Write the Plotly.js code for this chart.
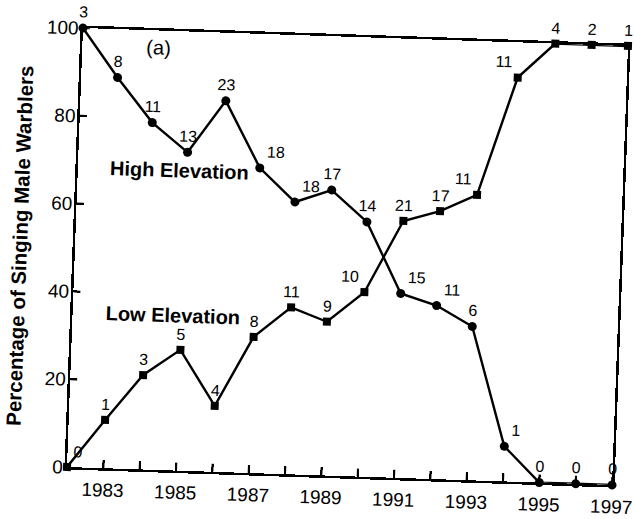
<!DOCTYPE html>
<html>
<head>
<meta charset="utf-8">
<script src="https://cdn.plot.ly/plotly-3.0.1.min.js"></script>
<style>
  html, body { margin: 0; padding: 0; background: #ffffff; overflow: hidden; }
  #chart { width: 634px; height: 519px; transform-origin: 67px 467px; transform: matrix(1, 0.033, -0.0364, 1, 0, 0); }
</style>
</head>
<body>
<div id="chart"></div>
<script>
// Years of survey
const years = [1982, 1983, 1984, 1985, 1986, 1987, 1988, 1989, 1990, 1991, 1992, 1993, 1994, 1995, 1996, 1997];
// Percentage of singing male warblers
const highElevation = [100, 89, 79, 72.5, 84.5, 69.5, 62, 65, 58, 42, 39.5, 35, 8, 0, 0, 0];
const lowElevation  = [0, 11, 21.5, 27.5, 15, 31, 38, 35, 42, 58.5, 61, 65, 92, 100, 100, 100];
// Sample sizes (number of males) labelled above each point
const highN = [3, 8, 11, 13, 23, 18, 18, 17, 14, 15, 11, 6, 1, 0, 0, 0];
const lowN  = [0, 1, 3, 5, 4, 8, 11, 9, 10, 21, 17, 11, 11, 4, 2, 1];
// Axis ticks and tick labels
const xTickVals = [1982, 1983, 1984, 1985, 1986, 1987, 1988, 1989, 1990, 1991, 1992, 1993, 1994, 1995, 1996, 1997];
const xTickText = ['', '1983', '', '1985', '', '1987', '', '1989', '', '1991', '', '1993', '', '1995', '', '1997'];
const yTickVals = [0, 20, 40, 60, 80, 100];

const highTextPos = ['top center','top center','top center','top center','top center','top right','top right','top center',
                     'top center','top right','top right','top center','top right','top center','top center','top center'];
const lowTextPos  = ['top right','top center','top center','top center','top center','top center','top center','top center',
                     'top left','top center','top center','top left','top left','top center','top center','top center'];

const FONT = 'Liberation Sans, Arial, Helvetica, sans-serif';

const traces = [
  {
    x: years, y: highElevation, text: highN.map(String),
    type: 'scatter', mode: 'lines+markers+text', name: 'High Elevation',
    line: { color: '#000', width: 2.4 },
    marker: { symbol: 'circle', size: 9, color: '#000' },
    textposition: highTextPos,
    textfont: { family: FONT, size: 16, color: '#000' },
    cliponaxis: false, showlegend: false
  },
  {
    x: years, y: lowElevation, text: lowN.map(String),
    type: 'scatter', mode: 'lines+markers+text', name: 'Low Elevation',
    line: { color: '#000', width: 2.4 },
    marker: { symbol: 'square', size: 8, color: '#000' },
    textposition: lowTextPos,
    textfont: { family: FONT, size: 16, color: '#000' },
    cliponaxis: false, showlegend: false
  }
];

// Inward tick marks, anchored on the axes through the library's scales
const tickShapes = xTickVals.slice(1).map(function (v) {
  return { type: 'line', layer: 'above', xref: 'x', x0: v, x1: v,
           yref: 'y', ysizemode: 'pixel', yanchor: 0, y0: 0, y1: 8,
           line: { color: '#000', width: 2 } };
}).concat(yTickVals.slice(1).map(function (v) {
  return { type: 'line', layer: 'above', yref: 'y', y0: v, y1: v,
           xref: 'x', xsizemode: 'pixel', xanchor: 1982, x0: 0, x1: 7,
           line: { color: '#000', width: 2 } };
}));

const layout = {
  width: 634, height: 519,
  margin: { l: 67, r: 22, t: 28, b: 52, pad: 0 },
  paper_bgcolor: '#fff', plot_bgcolor: '#fff',
  font: { family: FONT, color: '#000' },
  showlegend: false,
  xaxis: {
    range: [1982, 1997], tickmode: 'array', tickvals: xTickVals, ticktext: xTickText,
    showgrid: false, zeroline: false,
    showline: true, mirror: true, linecolor: '#000', linewidth: 2.5,
    ticks: 'inside', ticklen: 8, tickwidth: 2, tickcolor: '#000',
    tickfont: { family: FONT, size: 19, color: '#000' },
    ticklabelstandoff: 3
  },
  yaxis: {
    range: [0, 100], tickmode: 'array', tickvals: yTickVals,
    showgrid: false, zeroline: false,
    showline: true, mirror: true, linecolor: '#000', linewidth: 2.5,
    ticks: 'inside', ticklen: 7, tickwidth: 2, tickcolor: '#000',
    tickfont: { family: FONT, size: 19, color: '#000' },
    ticklabelstandoff: -2,
    title: { text: '<b>Percentage of Singing Male Warblers</b>', font: { family: FONT, size: 20.5, color: '#000' }, standoff: 12 }
  },
  shapes: tickShapes,
  annotations: [
    { x: 1984.78, y: 68.4, xref: 'x', yref: 'y', text: '<b>High Elevation</b>', showarrow: false,
      font: { family: FONT, size: 20, color: '#000' }, xanchor: 'center', yanchor: 'middle' },
    { x: 1984.75, y: 35.4, xref: 'x', yref: 'y', text: '<b>Low Elevation</b>', showarrow: false,
      font: { family: FONT, size: 20, color: '#000' }, xanchor: 'center', yanchor: 'middle' },
    { x: 1984.09, y: 96.2, xref: 'x', yref: 'y', text: '(a)', showarrow: false,
      font: { family: FONT, size: 20, color: '#000' }, xanchor: 'center', yanchor: 'middle' }
  ]
};

Plotly.newPlot('chart', traces, layout, { displayModeBar: false, staticPlot: true });
</script>
</body>
</html>
